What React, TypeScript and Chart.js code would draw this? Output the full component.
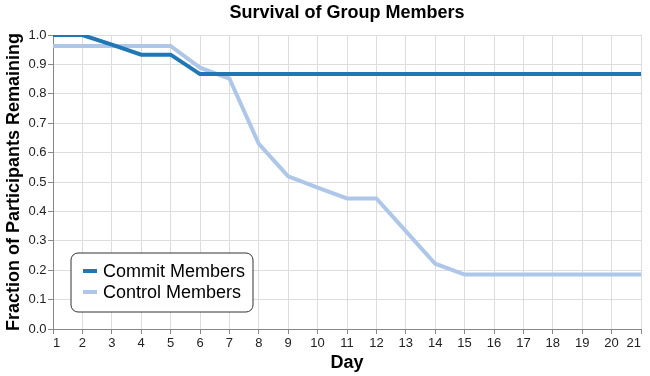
import React, { useEffect, useRef } from "react";
import { Chart, registerables } from "chart.js";

Chart.register(...registerables);

const days = ["1","2","3","4","5","6","7","8","9","10","11","12","13","14","15","16","17","18","19","20","21"];
const commitMembers = [1.0, 1.0, 0.967, 0.933, 0.933, 0.867, 0.867, 0.867, 0.867, 0.867, 0.867, 0.867, 0.867, 0.867, 0.867, 0.867, 0.867, 0.867, 0.867, 0.867, 0.867];
const controlMembers = [0.963, 0.963, 0.963, 0.963, 0.963, 0.889, 0.852, 0.630, 0.519, 0.481, 0.444, 0.444, 0.333, 0.222, 0.185, 0.185, 0.185, 0.185, 0.185, 0.185, 0.185];
const seriesNames = ["Commit Members", "Control Members"];
const seriesColors = ["#1f77b4", "#aec7e8"];

const FONT = "'Liberation Sans', Arial, Helvetica, sans-serif";

const legendBoxPlugin = {
  id: "legendBox",
  afterDatasetsDraw(chart: any) {
    const { ctx, chartArea } = chart;
    const items = chart.data.datasets.map((d: any) => ({ label: d.label, color: d.borderColor }));
    ctx.save();
    ctx.font = `18px ${FONT}`;
    let maxW = 0;
    items.forEach((it: any) => { maxW = Math.max(maxW, ctx.measureText(it.label).width); });
    const padL = 12, sym = 14, gap = 6, padR = 8, rowH = 21, padT = 18, padB = 20;
    const w = padL + sym + gap + maxW + padR;
    const h = padT + padB + rowH * (items.length - 1);
    const x = chartArea.left + 18;
    const y = chartArea.bottom - 17 - h;
    const r = 7;
    ctx.beginPath();
    ctx.moveTo(x + r, y);
    ctx.lineTo(x + w - r, y);
    ctx.arcTo(x + w, y, x + w, y + r, r);
    ctx.lineTo(x + w, y + h - r);
    ctx.arcTo(x + w, y + h, x + w - r, y + h, r);
    ctx.lineTo(x + r, y + h);
    ctx.arcTo(x, y + h, x, y + h - r, r);
    ctx.lineTo(x, y + r);
    ctx.arcTo(x, y, x + r, y, r);
    ctx.closePath();
    ctx.fillStyle = "#ffffff";
    ctx.fill();
    ctx.lineWidth = 1;
    ctx.strokeStyle = "#333333";
    ctx.stroke();
    items.forEach((it: any, i: number) => {
      const cy = y + padT + i * rowH;
      ctx.strokeStyle = it.color;
      ctx.lineWidth = 4;
      ctx.beginPath();
      ctx.moveTo(x + padL, cy);
      ctx.lineTo(x + padL + sym, cy);
      ctx.stroke();
      ctx.fillStyle = "#000000";
      ctx.textBaseline = "middle";
      ctx.textAlign = "left";
      ctx.fillText(it.label, x + padL + sym + gap, cy + 1);
    });
    ctx.restore();
  },
};

export default function App() {
  const ref = useRef<HTMLCanvasElement | null>(null);
  useEffect(() => {
    document.body.style.margin = "0";
    const canvas = ref.current!;
    const chart = new Chart(canvas, {
      type: "line",
      data: {
        labels: days,
        datasets: [
          { label: seriesNames[0], data: commitMembers, borderColor: seriesColors[0], backgroundColor: seriesColors[0], borderWidth: 4, pointRadius: 0, tension: 0 },
          { label: seriesNames[1], data: controlMembers, borderColor: seriesColors[1], backgroundColor: seriesColors[1], borderWidth: 4, pointRadius: 0, tension: 0 },
        ],
      },
      options: {
        responsive: false,
        animation: false,
        layout: { padding: { left: 0, right: 9, top: 0, bottom: 0 } },
        plugins: {
          legend: { display: false },
          tooltip: { enabled: false },
          title: {
            display: true,
            text: "Survival of Group Members",
            fullSize: false,
            color: "#000",
            font: { family: FONT, size: 18, weight: "bold" },
            padding: { top: 2, bottom: 11.4 },
          },
        },
        scales: {
          x: {
            type: "category",
            offset: false,
            grid: { color: "#dddddd", lineWidth: 1, tickColor: "#888888", tickLength: 5, drawTicks: true },
            border: { color: "#888888", width: 1 },
            ticks: { color: "#222", font: { family: FONT, size: 13 }, padding: 2, align: "inner", maxRotation: 0, autoSkip: false },
            title: { display: true, text: "Day", color: "#000", font: { family: FONT, size: 18, weight: "bold" }, padding: { top: 0, bottom: 2.5 } },
            afterFit: (s: any) => { s.height = 47; },
          },
          y: {
            type: "linear",
            min: 0,
            max: 1,
            grid: { color: "#dddddd", lineWidth: 1, tickColor: "#888888", tickLength: 5, drawTicks: true },
            border: { color: "#888888", width: 1 },
            ticks: { stepSize: 0.1, color: "#222", font: { family: FONT, size: 13 }, padding: 1.5, callback: (v: any) => Number(v).toFixed(1) },
            title: { display: true, text: "Fraction of Participants Remaining", color: "#000", font: { family: FONT, size: 18, weight: "bold" }, padding: { top: 3, bottom: 0 } },
            afterFit: (s: any) => { s.width = 53; },
          },
        },
      },
      plugins: [legendBoxPlugin],
    } as any);
    return () => chart.destroy();
  }, []);
  return <canvas ref={ref} width={650} height={376} style={{ display: "block" }} />;
}
